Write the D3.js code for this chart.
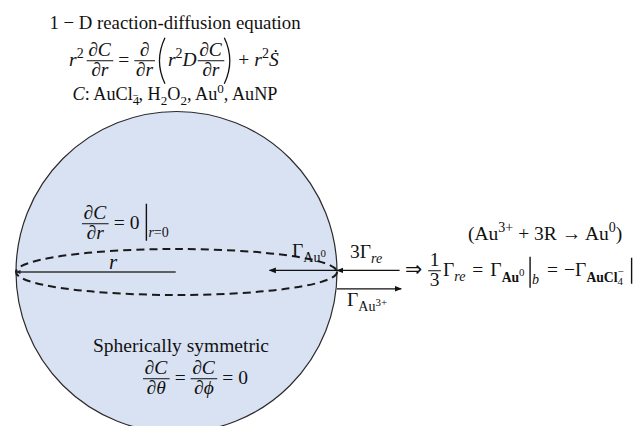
<!DOCTYPE html>
<html>
<head>
<meta charset="utf-8">
<script src="https://cdn.jsdelivr.net/npm/d3@7"></script>
<style>
	body { margin: 0; background: #fff; }
	svg { display: block; }
</style>
</head>
<body>
<script>
const width = 636, height = 426;
const fs = 19.5;
const serif = "'Liberation Serif', 'DejaVu Serif', serif";

// segment helpers: plain, italic, sub, sup, sup of a sub, stacked sup
const R = s => ({s});
const I = s => ({s, i: true});
const sub = (s, i) => ({s, i, sz: 0.72, sh: 0.28});
const sup = (s, i) => ({s, i, sz: 0.72, sh: -0.4});
const subB = s => ({s, sz: 0.7, sh: 0.3, b: true});
const subsub = s => ({s, sz: 0.56, sh: 0.44});
const subsup = s => ({s, sz: 0.56, sh: 0.0});
const stackSup = s => ({s, sz: 0.56, sh: -0.04, back: true});

// row items
const run = (...s) => ({t: "run", s});
const frac = (n, d) => ({t: "frac", n, d});
const sp = w => ({t: "sp", w});
const paren = side => ({t: "paren", side});
const bar = (s, up, down) => ({t: "bar", s, up, down});

const heading = "1 − D reaction-diffusion equation";

const pdeRow = [
	run(I("r"), sup("2")), sp(3),
	frac([I("∂C")], [I("∂r")]), sp(5),
	run(R("=")), sp(5),
	frac([I("∂")], [I("∂r")]), sp(1),
	paren("("), sp(2),
	run(I("r"), sup("2"), I("D")), sp(1),
	frac([I("∂C")], [I("∂r")]),
	paren(")"), sp(4),
	run(R("+")), sp(5),
	run(I("r"), sup("2"), I("Ṡ"))
];

const speciesRow = [
	run(I("C"), R(": AuCl"), sub("4"), stackSup("−"), R(", H"), sub("2"), R("O"), sub("2"),
		R(", Au"), sup("0"), R(", AuNP"))
];

const centerBcRow = [
	frac([I("∂C")], [I("∂r")]), sp(5),
	run(R("=")), sp(5), run(R("0")), sp(6),
	bar([I("r"), R("=0")], 20, 17)
];

const symmetryText = "Spherically symmetric";
const symmetryRow = [
	frac([I("∂C")], [I("∂θ")]), sp(5),
	run(R("=")), sp(5),
	frac([I("∂C")], [I("∂ϕ")]), sp(5),
	run(R("=")), sp(5), run(R("0"))
];

const reactionRow = [
	run(R("(Au"), sup("3+"), R(" + 3R → Au"), sup("0"), R(")"))
];

const fluxRow = [
	run({s: "⇒", f: "'DejaVu Sans'", sz: 1.05}), sp(6),
	frac([R("1")], [R("3")]), sp(2),
	run(R("Γ"), sub("re", true)), sp(7),
	run(R("=")), sp(7),
	run(R("Γ"), subB("Au"), subsup("0")), sp(4),
	bar([I("b")], 14, 17), sp(8),
	run(R("=")), sp(6),
	run(R("−Γ"), subB("AuCl"), subsub("4"), stackSup("−")), sp(7),
	bar([], 13, 13)
];

// flux arrows in sphere-radius units (1 = surface)
const arrows = [
	{label: [R("Γ"), sub("Au"), subsup("0")], from: 1.0, to: 0.58, off: -0.01},
	{label: [R("3Γ"), sub("re", true)], from: 1.39, to: 1.0, off: -0.01},
	{label: [R("Γ"), sub("Au"), subsup("3+")], from: 1.0, to: 1.4, off: 0.105}
];

const svg = d3.select("body").append("svg")
	.attr("width", width)
	.attr("height", height)
	.attr("font-family", serif)
	.attr("fill", "#111");

const defs = svg.append("defs");
defs.append("marker")
	.attr("id", "head")
	.attr("viewBox", "0 0 10 10")
	.attr("refX", 9)
	.attr("refY", 5)
	.attr("markerWidth", 7)
	.attr("markerHeight", 7)
	.attr("markerUnits", "userSpaceOnUse")
	.attr("orient", "auto")
	.append("path")
		.attr("d", "M0,1 L10,5 L0,9 Z")
		.attr("fill", "#111");
defs.append("marker")
	.attr("id", "tiny")
	.attr("viewBox", "0 0 10 10")
	.attr("refX", 9)
	.attr("refY", 5)
	.attr("markerWidth", 5)
	.attr("markerHeight", 5)
	.attr("markerUnits", "userSpaceOnUse")
	.attr("orient", "auto")
	.append("path")
		.attr("d", "M0,1 L10,5 L0,9 Z")
		.attr("fill", "#222");

// sphere geometry through scales
const x = d3.scaleLinear().domain([-1, 1]).range([16, 337]);
const y = d3.scaleLinear().domain([-1, 1]).range([272 - 160.5, 272 + 160.5]);
const rx = x(1) - x(0);

svg.append("circle")
	.attr("cx", x(0))
	.attr("cy", y(0))
	.attr("r", rx)
	.attr("fill", "#d9e2f3")
	.attr("stroke", "#2b2b2b")
	.attr("stroke-width", 1.2);

svg.append("ellipse")
	.attr("cx", x(0))
	.attr("cy", y(0))
	.attr("rx", rx)
	.attr("ry", 23)
	.attr("fill", "none")
	.attr("stroke", "#1a1a1a")
	.attr("stroke-width", 2)
	.attr("stroke-dasharray", "8 5");

svg.append("line")
	.attr("x1", x(-0.005))
	.attr("x2", x(-1))
	.attr("y1", y(0))
	.attr("y2", y(0))
	.attr("stroke", "#333")
	.attr("stroke-width", 1.4)
	.attr("marker-end", "url(#tiny)");

svg.append("text")
	.attr("x", 109)
	.attr("y", 269)
	.attr("font-size", 21)
	.attr("font-style", "italic")
	.text("r");

// text helpers
function drawRun(g, x0, base, segs, size) {
	const t = g.append("text")
		.attr("x", x0)
		.attr("y", base)
		.attr("font-size", size);
	let shift = 0, prevSz = 1;
	segs.forEach(seg => {
		const sz = seg.sz || 1, sh = seg.sh || 0;
		const ts = t.append("tspan")
			.attr("font-size", sz * size)
			.attr("dy", (sh - shift) * size)
			.attr("font-style", seg.i ? "italic" : "normal")
			.attr("font-weight", seg.b ? "bold" : null)
			.attr("font-family", seg.f || null)
			.text(seg.s);
		if (seg.back) ts.attr("dx", -0.5 * prevSz * size);
		shift = sh;
		prevSz = sz;
	});
	const bb = t.node().getBBox();
	return bb.x + bb.width - x0;
}

function layoutRow(items, base, size) {
	const g = svg.append("g");
	const axis = base - 0.27 * size;
	let cx = 0;
	items.forEach(it => {
		if (it.t === "sp") cx += it.w;
		else if (it.t === "run") cx += drawRun(g, cx, base, it.s, size);
		else if (it.t === "frac") {
			const gn = g.append("g"), gd = g.append("g");
			const wn = drawRun(gn, 0, axis - 0.26 * size, it.n, size);
			const wd = drawRun(gd, 0, axis + 0.76 * size, it.d, size);
			const w = Math.max(wn, wd) + 3;
			gn.attr("transform", `translate(${cx + (w - wn) / 2},0)`);
			gd.attr("transform", `translate(${cx + (w - wd) / 2},0)`);
			g.append("line")
				.attr("x1", cx).attr("x2", cx + w)
				.attr("y1", axis).attr("y2", axis)
				.attr("stroke", "#111")
				.attr("stroke-width", 1);
			cx += w;
		} else if (it.t === "paren") {
			const h = 1.18 * size, pw = 9;
			const d = it.side === "("
				? `M${cx + pw},${axis - h} Q${cx - 2},${axis} ${cx + pw},${axis + h}`
				: `M${cx},${axis - h} Q${cx + pw + 2},${axis} ${cx},${axis + h}`;
			g.append("path")
				.attr("d", d)
				.attr("fill", "none")
				.attr("stroke", "#111")
				.attr("stroke-width", 1.3);
			cx += pw + 1;
		} else if (it.t === "bar") {
			g.append("line")
				.attr("x1", cx + 1).attr("x2", cx + 1)
				.attr("y1", axis - it.up).attr("y2", axis + it.down)
				.attr("stroke", "#111")
				.attr("stroke-width", 1.4);
			cx += 3;
			if (it.s.length) cx += drawRun(g, cx, base + 0.42 * size,
				it.s.map(s => Object.assign({}, s, {sz: 0.72})), size);
		}
	});
	return {g, w: cx};
}

function placeRow(items, base, size, opts) {
	const {g, w} = layoutRow(items, base, size);
	const left = opts.center !== undefined ? opts.center - w / 2 : opts.left;
	g.attr("transform", `translate(${left},0)`);
}

// header block
svg.append("text")
	.attr("x", 175)
	.attr("y", 29)
	.attr("font-size", 18.8)
	.attr("text-anchor", "middle")
	.text(heading);

placeRow(pdeRow, 66, fs, {center: 174});
placeRow(speciesRow, 100, 18.2, {center: 175});

// inside the sphere
placeRow(centerBcRow, 229, fs, {left: 82});

svg.append("text")
	.attr("x", 181)
	.attr("y", 352)
	.attr("font-size", fs)
	.attr("text-anchor", "middle")
	.text(symmetryText);
placeRow(symmetryRow, 384, fs, {left: 143});

// flux arrows at the surface
arrows.forEach(a => {
	const yy = y(a.off);
	svg.append("line")
		.attr("x1", x(a.from))
		.attr("x2", x(a.to))
		.attr("y1", yy)
		.attr("y2", yy)
		.attr("stroke", "#111")
		.attr("stroke-width", 1.4)
		.attr("marker-end", "url(#head)");
});

const g0 = svg.append("g");
drawRun(g0, 292, 257, arrows[0].label, fs);
drawRun(g0, 350, 258, arrows[1].label, fs);
drawRun(g0, 347, 306, arrows[2].label, fs);

// surface balance
placeRow(reactionRow, 240, fs, {left: 468});
placeRow(fluxRow, 276, fs, {left: 405});
</script>
</body>
</html>
